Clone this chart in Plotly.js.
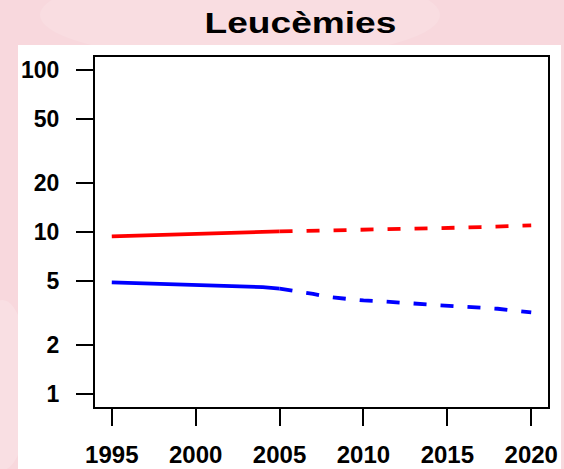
<!DOCTYPE html>
<html>
<head>
<meta charset="utf-8">
<script src="https://cdn.plot.ly/plotly-3.0.1.min.js"></script>
<style>
html,body{margin:0;padding:0;background:#f8d8dd;}
#chart{width:564px;height:469px;}
</style>
</head>
<body>
<div id="chart"></div>
<script>
// Observed period
const yearsObserved = [1995,1996,1997,1998,1999,2000,2001,2002,2003,2004,2005];
const redObserved   = [9.40,9.47,9.53,9.59,9.65,9.72,9.79,9.86,9.93,10.00,10.08];
const blueObserved  = [4.89,4.85,4.81,4.78,4.75,4.73,4.70,4.66,4.62,4.57,4.47];
// Projected period
const yearsProjected = [2005,2006,2007,2008,2009,2010,2011,2012,2013,2014,2015,2016,2017,2018,2019,2020];
const redProjected   = [10.08,10.12,10.17,10.22,10.28,10.33,10.38,10.43,10.48,10.53,10.58,10.65,10.73,10.82,10.90,10.98];
const blueProjected  = [4.47,4.33,4.15,3.96,3.85,3.78,3.74,3.70,3.62,3.56,3.51,3.47,3.43,3.36,3.27,3.19];
// Axis ticks
const yTickVals = [1,2,5,10,20,50,100];
const yTickText = ['1','2','5','10','20','50','100'];
const xTickVals = [1995,2000,2005,2010,2015,2020];
const chartTitle = 'Leucèmies';

const W = 564, H = 469;
const M = {l:95, r:16, t:57, b:62};
const pw = W - M.l - M.r, ph = H - M.t - M.b;
const px = x => (x - M.l) / pw;
const py = y => (H - M.b - y) / ph;

const fontFam = 'Liberation Sans, Arial, Helvetica, sans-serif';
const dashPat = '13px,14px';

const traces = [
  {x: yearsObserved, y: redObserved, mode:'lines', line:{color:'#ff0000', width:3.8}, hoverinfo:'skip'},
  {x: yearsProjected, y: redProjected, mode:'lines', line:{color:'#ff0000', width:3.8, dash:dashPat}, hoverinfo:'skip'},
  {x: yearsObserved, y: blueObserved, mode:'lines', line:{color:'#0000ff', width:3.8}, hoverinfo:'skip'},
  {x: yearsProjected, y: blueProjected, mode:'lines', line:{color:'#0000ff', width:3.8, dash:dashPat}, hoverinfo:'skip'}
];

const shapes = [
  {type:'rect', xref:'paper', yref:'paper', layer:'below',
   x0:px(18), x1:px(561), y0:py(469), y1:py(45), fillcolor:'#ffffff', line:{width:0}},
  {type:'circle', xref:'paper', yref:'paper', layer:'below',
   x0:px(40), x1:px(440), y0:py(60), y1:py(-30), fillcolor:'rgba(255,255,255,0.13)', line:{width:0}},
  {type:'circle', xref:'paper', yref:'paper', layer:'below',
   x0:px(-25), x1:px(30), y0:py(470), y1:py(300), fillcolor:'rgba(255,255,255,0.18)', line:{width:0}}
];

const titleCx = 300.5;
const layout = {
  width: W, height: H,
  margin: M,
  paper_bgcolor: '#f8d8dd',
  plot_bgcolor: '#ffffff',
  showlegend: false,
  title: {text: chartTitle, font:{family:fontFam, size:29, color:'#000', weight:'bold'},
          x: titleCx/W, xanchor:'center', xref:'container', y: 1-23/H, yanchor:'middle', yref:'container'},
  xaxis: {
    range:[1994, 2021], tickvals:xTickVals, ticktext:xTickVals.map(String),
    ticks:'outside', ticklen:17, tickwidth:2, tickcolor:'#000',
    showline:true, linecolor:'#000', linewidth:2, mirror:true,
    showgrid:false, zeroline:false, ticklabelstandoff:8,
    tickfont:{family:fontFam, size:24, color:'#000', weight:'bold'}
  },
  yaxis: {
    type:'log', range:[-0.08, 2.08], tickvals:yTickVals, ticktext:yTickText,
    ticks:'outside', ticklen:17, tickwidth:2, tickcolor:'#000',
    showline:true, linecolor:'#000', linewidth:2, mirror:true,
    showgrid:false, zeroline:false, ticklabelstandoff:12,
    tickfont:{family:fontFam, size:23, color:'#000', weight:'bold'}
  },
  shapes: shapes
};

Plotly.newPlot('chart', traces, layout, {displayModeBar:false, staticPlot:true}).then(function(gd){
  // widen the title glyphs horizontally, as in the reference
  const t = gd.querySelector('.gtitle');
  if (t) {
    t.setAttribute('transform', 'translate(' + titleCx + ',0) scale(1.28,1) translate(' + (-titleCx) + ',0)');
  }
});
</script>
</body>
</html>
